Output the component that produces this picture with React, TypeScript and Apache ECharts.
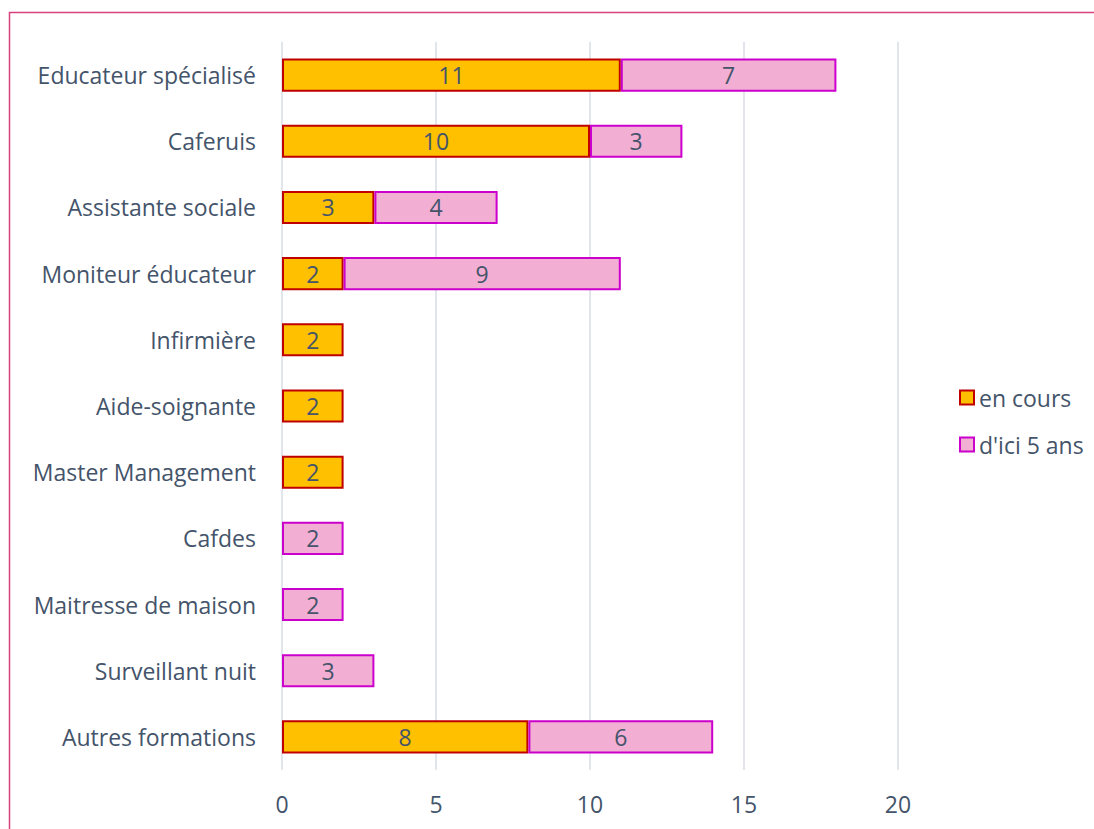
import React, { useEffect, useRef } from "react";
import * as echarts from "echarts";

const categories = [
  "Educateur spécialisé",
  "Caferuis",
  "Assistante sociale",
  "Moniteur éducateur",
  "Infirmière",
  "Aide-soignante",
  "Master Management",
  "Cafdes",
  "Maitresse de maison",
  "Surveillant nuit",
  "Autres formations",
];
const enCours: (number | null)[] = [11, 10, 3, 2, 2, 2, 2, null, null, null, 8];
const dIci5Ans: (number | null)[] = [7, 3, 4, 9, null, null, null, 2, 2, 3, 6];
const xTicks = [0, 5, 10, 15, 20];

const FONT = "Open Sans";
const TEXT = "#44546A";
const FS = 23;

export default function App() {
  const ref = useRef<HTMLDivElement>(null);
  useEffect(() => {
    document.body.style.margin = "0";
    const chart = echarts.init(ref.current!, null, { renderer: "svg" });
    const label = {
      show: true,
      position: "inside" as const,
      color: TEXT,
      fontSize: FS,
      fontFamily: FONT,
    };
    chart.setOption({
      animation: false,
      backgroundColor: "#fff",
      textStyle: { fontFamily: FONT },
      graphic: [
        {
          type: "rect",
          shape: { x: 9.5, y: 12.5, width: 1100, height: 830 },
          style: { fill: "none", stroke: "#D9417E", lineWidth: 1.5 },
          silent: true,
        },
      ],
      grid: { left: 282, right: 196, top: 42, bottom: 59, containLabel: false },
      legend: {
        orient: "vertical",
        left: 954,
        top: 381,
        itemWidth: 14,
        itemHeight: 14,
        itemGap: 24,
        icon: "rect",
        textStyle: { color: TEXT, fontSize: FS, fontFamily: FONT },
        data: ["en cours", "d'ici 5 ans"],
      },
      xAxis: {
        type: "value",
        min: xTicks[0],
        max: xTicks[xTicks.length - 1],
        interval: 5,
        axisLine: { show: false },
        axisTick: { show: false },
        splitLine: { lineStyle: { color: "#D9DEE6", width: 1.5 } },
        axisLabel: { color: TEXT, fontSize: FS, fontFamily: FONT, margin: 22 },
      },
      yAxis: {
        type: "category",
        inverse: true,
        data: categories,
        axisLine: { show: false },
        axisTick: { show: false },
        axisLabel: { color: TEXT, fontSize: FS, fontFamily: FONT, margin: 26 },
      },
      series: [
        {
          name: "en cours",
          type: "bar",
          stack: "total",
          barWidth: "50%",
          data: enCours,
          itemStyle: { color: "#FFC000", borderColor: "#C00000", borderWidth: 2 },
          label,
        },
        {
          name: "d'ici 5 ans",
          type: "bar",
          stack: "total",
          barWidth: "50%",
          data: dIci5Ans,
          itemStyle: { color: "#F3AED3", borderColor: "#CC00CC", borderWidth: 2 },
          label,
        },
      ],
    });
    return () => chart.dispose();
  }, []);
  return <div ref={ref} style={{ width: 1094, height: 829 }} />;
}
